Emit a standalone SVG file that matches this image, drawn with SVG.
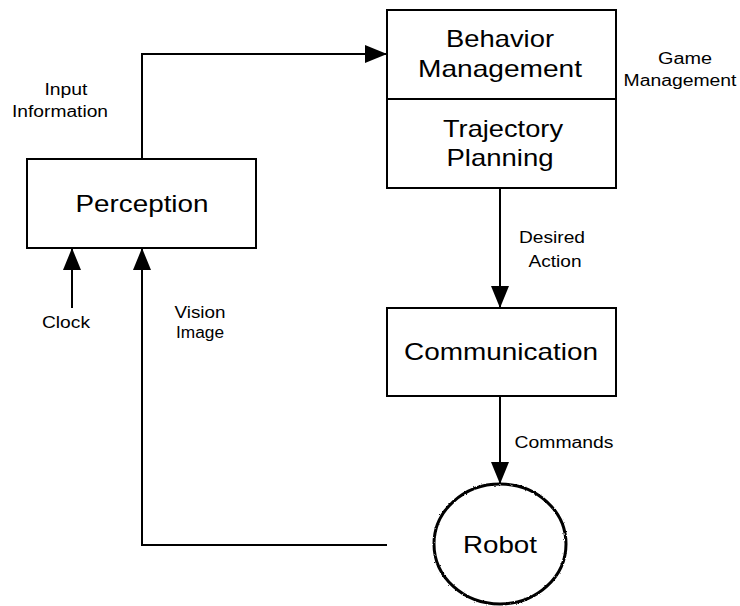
<svg xmlns="http://www.w3.org/2000/svg" width="740" height="606" viewBox="0 0 740 606">
  <style>
    .box { fill: #fff; stroke: #000; stroke-width: 2; }
    .wire { fill: none; stroke: #000; stroke-width: 2; }
    .big { font-family: "Liberation Sans", Arial, sans-serif; font-size: 24px; fill: #000; text-anchor: middle; }
    .lbl { font-family: "Liberation Sans", Arial, sans-serif; font-size: 16px; fill: #000; text-anchor: middle; }
  </style>
  <defs>
    <marker id="head" viewBox="0 0 22 18" refX="22" refY="9" markerWidth="22" markerHeight="18" markerUnits="userSpaceOnUse" orient="auto">
      <path d="M0,0 L22,9 L0,18 Z" fill="#000"/>
    </marker>
    <filter id="rough" x="-10%" y="-10%" width="120%" height="120%">
      <feTurbulence type="fractalNoise" baseFrequency="0.9" numOctaves="1" seed="3" result="n"/>
      <feDisplacementMap in="SourceGraphic" in2="n" scale="2.5" xChannelSelector="R" yChannelSelector="G"/>
    </filter>
  </defs>
  <rect width="740" height="606" fill="#fff"/>

  <g id="connectors">
    <path class="wire" d="M142,159 V54 H387" marker-end="url(#head)"/>
    <path class="wire" d="M72,308 V248" marker-end="url(#head)"/>
    <path class="wire" d="M387,545 H142 V248" marker-end="url(#head)"/>
    <path class="wire" d="M500,188 V308" marker-end="url(#head)"/>
    <path class="wire" d="M500,396 V484" marker-end="url(#head)"/>
  </g>

  <g id="planning">
    <rect class="box" x="387" y="10" width="229" height="178"/>
    <line class="wire" x1="387" y1="99" x2="616" y2="99"/>
    <text class="big" x="500" y="47" textLength="108" lengthAdjust="spacingAndGlyphs">Behavior</text>
    <text class="big" x="500" y="77" textLength="164" lengthAdjust="spacingAndGlyphs">Management</text>
    <text class="big" x="503" y="137" textLength="120" lengthAdjust="spacingAndGlyphs">Trajectory</text>
    <text class="big" x="500" y="166" textLength="107" lengthAdjust="spacingAndGlyphs">Planning</text>
  </g>

  <g id="perception">
    <rect class="box" x="27" y="159" width="229" height="89"/>
    <text class="big" x="142" y="212" textLength="133" lengthAdjust="spacingAndGlyphs">Perception</text>
  </g>

  <g id="communication">
    <rect class="box" x="387" y="308" width="229" height="88"/>
    <text class="big" x="501" y="360" textLength="194" lengthAdjust="spacingAndGlyphs">Communication</text>
  </g>

  <g id="robot">
    <ellipse cx="500" cy="544" rx="66" ry="60" fill="#fff" stroke="#000" stroke-width="3" filter="url(#rough)"/>
    <text class="big" x="500" y="553" textLength="74" lengthAdjust="spacingAndGlyphs">Robot</text>
  </g>

  <g id="labels">
    <text class="lbl" x="66" y="95" textLength="43" lengthAdjust="spacingAndGlyphs">Input</text>
    <text class="lbl" x="60" y="117" textLength="96" lengthAdjust="spacingAndGlyphs">Information</text>
    <text class="lbl" x="685" y="64" textLength="54" lengthAdjust="spacingAndGlyphs">Game</text>
    <text class="lbl" x="680" y="86" textLength="113" lengthAdjust="spacingAndGlyphs">Management</text>
    <text class="lbl" x="552" y="243" textLength="66" lengthAdjust="spacingAndGlyphs">Desired</text>
    <text class="lbl" x="555" y="267" textLength="53" lengthAdjust="spacingAndGlyphs">Action</text>
    <text class="lbl" x="564" y="448" textLength="99" lengthAdjust="spacingAndGlyphs">Commands</text>
    <text class="lbl" x="66" y="328" textLength="48" lengthAdjust="spacingAndGlyphs">Clock</text>
    <text class="lbl" x="200" y="318" textLength="51" lengthAdjust="spacingAndGlyphs">Vision</text>
    <text class="lbl" x="200" y="338" textLength="48" lengthAdjust="spacingAndGlyphs">Image</text>
  </g>
</svg>
